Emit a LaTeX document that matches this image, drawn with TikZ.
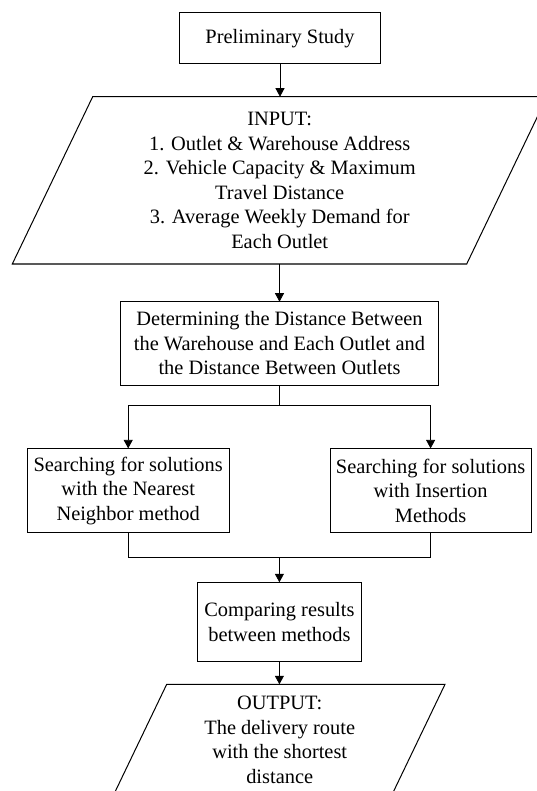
\documentclass[tikz,border=0pt]{standalone}
\usepackage{fontspec}
\setmainfont{Liberation Serif}
\usetikzlibrary{arrows.meta}
\begin{document}
\begin{tikzpicture}[x=1pt,y=-1pt,
  every node/.style={font=\fontsize{20.4}{24.5}\selectfont, align=center, inner sep=0pt, outer sep=0pt},
  box/.style={draw, line width=1pt, minimum width=#1},
  io/.style={draw, line width=1pt, line join=miter},
  conn/.style={line width=0.8pt},
  arr/.style={conn, -{Triangle[length=8.5pt,width=9pt]}}
]
\useasboundingbox (0,0) rectangle (537,791);
\clip (0,0) rectangle (537,791);

\node[box=201.7pt, minimum height=51.7pt] (prelim) at (280,38.15) {Preliminary Study};

% INPUT parallelogram
\draw[io] (92.7,96.7) -- (547,96.7) -- (466.7,264) -- (12.3,264) -- cycle;
\coordinate (inptop) at (280,96.7);
\coordinate (inpbot) at (279.5,264);
\node (inp) at (279.7,180.3) {INPUT:\\1. Outlet \& Warehouse Address\\2. Vehicle Capacity \& Maximum\\Travel Distance\\3. Average Weekly Demand for\\Each Outlet};

\node[box=318pt, minimum height=83.6pt] (det) at (279.5,343.5) {Determining the Distance Between\\the Warehouse and Each Outlet and\\the Distance Between Outlets};

\node[box=201.7pt, minimum height=84.4pt] (nn) at (128.2,490.6) {Searching for solutions\\with the Nearest\\Neighbor method};
\node[box=201pt, minimum height=84.4pt] (ins) at (430.6,490.6) {Searching for solutions\\with Insertion\\Methods};

\node[box=164pt, minimum height=79.4pt] (cmp) at (279.4,622) {Comparing results\\between methods};

% OUTPUT parallelogram
\draw[io] (166.7,684.3) -- (445,684.3) -- (391.5,795.7) -- (113.2,795.7) -- cycle;
\coordinate (outtop) at (279.4,684.3);
\node (out) at (279.7,740) {OUTPUT:\\The delivery route\\with the shortest\\distance};

\coordinate (split) at (279.5,405);
\coordinate (join) at (279.4,557.3);

\draw[arr] (prelim.south) -- (inptop);
\draw[arr] (inpbot) -- (det.north);
\draw[conn] (det.south) -- (split);
\draw[arr] (split) -| (nn.north);
\draw[arr] (split) -| (ins.north);
\draw[conn] (nn.south) |- (join);
\draw[conn] (ins.south) |- (join);
\draw[arr] (join) -- (cmp.north);
\draw[arr] (cmp.south) -- (outtop);
\end{tikzpicture}
\end{document}
